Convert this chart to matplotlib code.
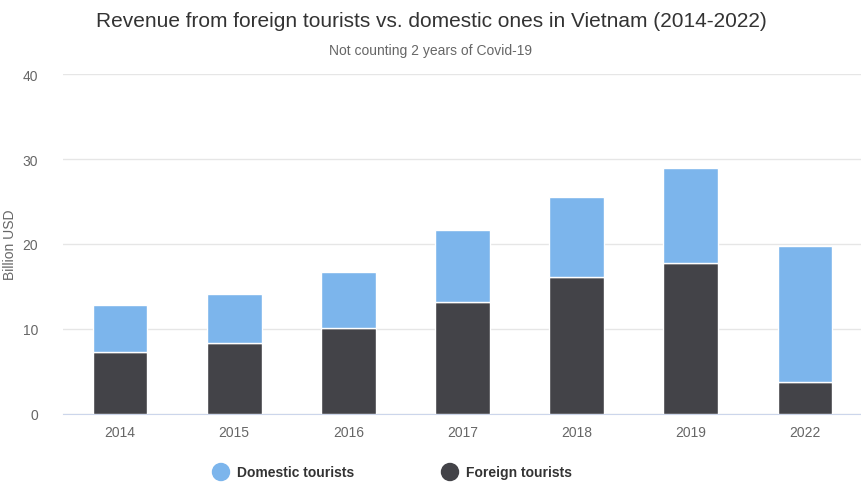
import matplotlib
matplotlib.use("Agg")
import matplotlib.pyplot as plt

years = ["2014", "2015", "2016", "2017", "2018", "2019", "2022"]
foreign = [7.3, 8.3, 10.1, 13.2, 16.1, 17.8, 3.7]
domestic = [5.5, 5.8, 6.6, 8.4, 9.4, 11.2, 16.1]

plt.rcParams['font.family'] = ['Liberation Sans', 'DejaVu Sans']
fig = plt.figure(figsize=(8.62, 4.85), dpi=100)
ax = fig.add_axes([0.073, 0.145, 0.927, 0.7])
x = range(len(years))
ax.bar(x, foreign, width=0.48, color="#434348", edgecolor="white", linewidth=1, zorder=3)
ax.bar(x, domestic, bottom=foreign, width=0.48, color="#7cb5ec", edgecolor="white", linewidth=1, zorder=3)
ax.set_ylim(0, 40)
ax.set_xlim(-0.5, 6.5)
ax.set_yticks([0, 10, 20, 30, 40])
ax.set_xticks(list(x))
ax.set_xticklabels(years)
ax.grid(axis='y', color="#e6e6e6", linewidth=1, zorder=0)
for s in ["top", "right", "left"]:
    ax.spines[s].set_visible(False)
ax.spines["bottom"].set_color("#ccd6eb")
ax.tick_params(axis='both', length=0, colors="#666666", labelsize=10)
ax.tick_params(axis='y', pad=18)
ax.tick_params(axis='x', pad=8)
ax.set_ylabel("Billion USD", color="#666666", fontsize=10, labelpad=4)
fig.text(0.5, 0.955, "Revenue from foreign tourists vs. domestic ones in Vietnam (2014-2022)",
         ha="center", va="center", fontsize=15, color="#333333")
fig.text(0.5, 0.895, "Not counting 2 years of Covid-19", ha="center", va="center", fontsize=10, color="#666666")
# legend
fig.scatter = None
ax2 = fig.add_axes([0, 0, 1, 1], facecolor="none")
ax2.set_xlim(0, 862); ax2.set_ylim(485, 0); ax2.axis("off")
ax2.scatter([221, 450], [473, 473], s=150, color=["#7cb5ec", "#434348"])
ax2.text(237, 473, "Domestic tourists", va="center", fontsize=10, fontweight="bold", color="#333333")
ax2.text(466, 473, "Foreign tourists", va="center", fontsize=10, fontweight="bold", color="#333333")
fig.savefig("out.png", dpi=100)
